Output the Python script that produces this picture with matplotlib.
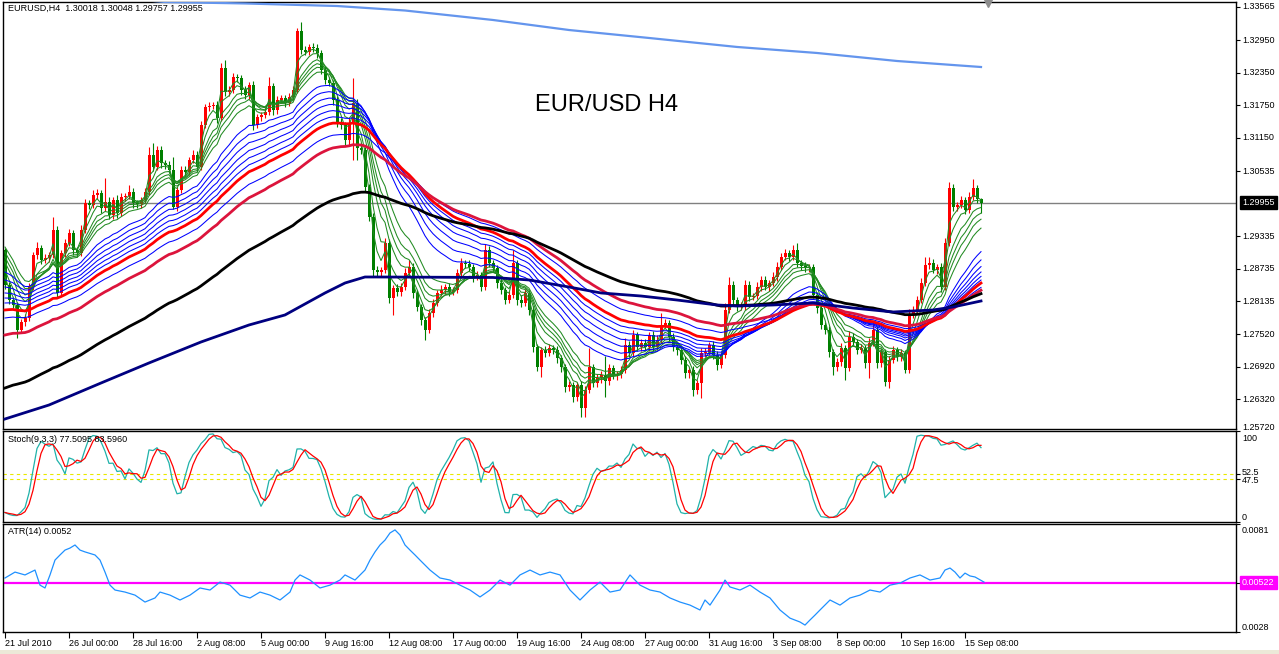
import matplotlib.pyplot as plt
import numpy as np
import pandas as pd

plt.rcParams['font.family'] = ['Liberation Sans', 'DejaVu Sans']

symbol_text = "EURUSD,H4  1.30018 1.30048 1.29757 1.29955"
title_text = "EUR/USD H4"
stoch_text = "Stoch(9,3,3) 77.5095 83.5960"
atr_text = "ATR(14) 0.0052"

# H4 closes (one per bar)
first_open = 1.2908
closes = [
    1.28433, 1.28156, 1.28064, 1.27603, 1.27750, 1.27824, 1.28396, 1.28987, 1.29116, 1.28895,
    1.28932, 1.28987, 1.29449, 1.28286, 1.29024, 1.29208, 1.29393, 1.29079, 1.29024, 1.29449,
    1.29947, 1.29910, 1.30094, 1.30131, 1.29854, 1.29965, 1.29725, 1.30002, 1.29762, 1.30057,
    1.30076, 1.30150, 1.29947, 1.29928, 1.30002, 1.30150, 1.30833, 1.30611, 1.30925, 1.30685,
    1.30648, 1.30556, 1.29873, 1.30187, 1.30556, 1.30520, 1.30741, 1.30833, 1.30611, 1.31387,
    1.31719, 1.31737, 1.31756, 1.31516, 1.32439, 1.31996, 1.32033, 1.32273, 1.32255, 1.32033,
    1.31941, 1.32125, 1.31387, 1.31535, 1.31572, 1.31627, 1.32107, 1.31664, 1.31848, 1.31885,
    1.31793, 1.31904, 1.32033, 1.33122, 1.32771, 1.32734, 1.32827, 1.32808, 1.32716, 1.32402,
    1.32217, 1.32162, 1.31848, 1.31442, 1.31387, 1.31110, 1.31424, 1.31793, 1.30962, 1.30925,
    1.30242, 1.29688, 1.28710, 1.28673, 1.28710, 1.29208, 1.28193, 1.28378, 1.28304, 1.28396,
    1.28655, 1.28766, 1.28286, 1.28027, 1.27787, 1.27603, 1.27916, 1.28101, 1.28286, 1.28341,
    1.28396, 1.28304, 1.28341, 1.28655, 1.28839, 1.28821, 1.28766, 1.28581, 1.28618, 1.28396,
    1.29079, 1.28839, 1.28747, 1.28470, 1.28341, 1.28156, 1.28249, 1.28839, 1.28156, 1.28101,
    1.28286, 1.27972, 1.27289, 1.26920, 1.27233, 1.27178, 1.27270, 1.27233, 1.27086, 1.26920,
    1.26551, 1.26588, 1.26366, 1.26588, 1.26164, 1.26495, 1.26920, 1.26624, 1.26717, 1.26772,
    1.26661, 1.26901, 1.26772, 1.26790, 1.26864, 1.27326, 1.27178, 1.27510, 1.27289, 1.27362,
    1.27289, 1.27510, 1.27289, 1.27418, 1.27695, 1.27732, 1.27473, 1.27289, 1.27233, 1.27049,
    1.26809, 1.26864, 1.26495, 1.26624, 1.27178, 1.27196, 1.27326, 1.27141, 1.26956, 1.27141,
    1.27972, 1.28433, 1.28156, 1.28027, 1.28045, 1.28433, 1.28212, 1.28230, 1.28396, 1.28526,
    1.28396, 1.28470, 1.28581, 1.28766, 1.28950, 1.29024, 1.28950, 1.29079, 1.28839, 1.28784,
    1.28747, 1.28766, 1.28249, 1.28008, 1.27695, 1.27603, 1.27196, 1.26920, 1.27012, 1.27270,
    1.26901, 1.27473, 1.27381, 1.27233, 1.27270, 1.26993, 1.27362, 1.27603, 1.26993, 1.27196,
    1.26643, 1.27049, 1.27233, 1.27104, 1.27178, 1.26864, 1.27879, 1.27972, 1.28156, 1.28470,
    1.28802, 1.28839, 1.28710, 1.28766, 1.28396, 1.29208, 1.30224, 1.29873, 1.29910, 1.30002,
    1.29818, 1.30057, 1.30224, 1.30018, 1.29955,
]

# wick lengths beyond the body, in pips
wick_up = [
    4, 5, 6, 5, 6, 7, 8, 6, 12, 6, 7, 6, 24, 8, 6, 7, 8, 6, 5, 9,
    7, 6, 10, 8, 6, 45, 9, 6, 10, 7, 6, 12, 7, 5, 6, 8, 14, 22, 8, 7,
    6, 7, 24, 6, 8, 7, 6, 9, 7, 8, 6, 7, 5, 7, 10, 15, 7, 8, 6, 5,
    7, 6, 8, 5, 6, 7, 17, 6, 8, 5, 6, 7, 8, 6, 17, 7, 6, 8, 7, 6,
    7, 5, 6, 8, 7, 6, 9, 46, 7, 8, 6, 5, 7, 8, 6, 9, 7, 6, 8, 7,
    9, 12, 7, 6, 5, 6, 8, 7, 6, 9, 6, 7, 5, 8, 9, 6, 7, 6, 8, 6,
    12, 7, 6, 5, 8, 6, 7, 24, 6, 9, 8, 6, 7, 5, 6, 8, 7, 6, 7, 6,
    6, 7, 5, 6, 7, 8, 35, 6, 7, 8, 35, 7, 6, 5, 7, 12, 8, 10, 6, 7,
    8, 6, 7, 9, 22, 8, 6, 7, 5, 6, 7, 6, 8, 6, 9, 7, 6, 8, 7, 6,
    12, 15, 7, 6, 8, 10, 7, 6, 9, 7, 8, 6, 9, 10, 8, 7, 6, 9, 13, 6,
    7, 6, 5, 6, 7, 6, 8, 6, 7, 9, 6, 12, 7, 6, 8, 6, 9, 14, 7, 6,
    6, 8, 7, 6, 7, 6, 12, 8, 7, 9, 15, 12, 7, 6, 8, 10, 11, 7, 6, 8,
    6, 9, 17, 6, 3,
]
wick_dn = [
    8, 7, 6, 14, 6, 7, 5, 6, 7, 8, 6, 7, 5, 8, 6, 7, 5, 9, 8, 6,
    6, 7, 5, 8, 9, 6, 8, 7, 9, 6, 7, 5, 10, 7, 8, 6, 5, 7, 6, 9,
    7, 6, 4, 8, 6, 7, 5, 6, 9, 5, 6, 7, 6, 9, 5, 8, 7, 6, 7, 9,
    8, 7, 10, 6, 7, 5, 6, 9, 7, 6, 8, 5, 6, 5, 7, 6, 5, 8, 9, 7,
    8, 6, 9, 10, 8, 9, 12, 68, 22, 7, 9, 8, 12, 10, 7, 6, 9, 31, 8, 7,
    6, 7, 9, 8, 10, 18, 6, 7, 5, 6, 7, 8, 6, 5, 6, 7, 8, 9, 6, 8,
    6, 8, 7, 9, 7, 8, 6, 5, 9, 8, 6, 10, 9, 8, 18, 7, 6, 8, 9, 10,
    9, 8, 10, 7, 17, 17, 6, 8, 7, 9, 30, 7, 8, 9, 8, 6, 7, 6, 8, 7,
    6, 7, 8, 6, 5, 6, 8, 7, 9, 8, 10, 9, 12, 8, 28, 7, 6, 8, 9, 6,
    5, 6, 8, 7, 6, 7, 8, 6, 5, 7, 6, 8, 6, 7, 5, 6, 7, 6, 8, 7,
    7, 8, 6, 9, 8, 7, 10, 14, 8, 7, 22, 6, 7, 8, 6, 9, 28, 6, 10, 7,
    8, 11, 6, 7, 8, 6, 5, 6, 7, 5, 6, 7, 6, 8, 9, 6, 5, 7, 8, 6,
    8, 6, 5, 7, 20,
]

# moving averages: periods and their value at the first visible bar
green_periods = [3, 5, 8, 10, 12, 15]
green_seeds = [1.28581, 1.28710, 1.28858, 1.28950, 1.29042, 1.29134]
blue_periods = [25, 30, 35, 40, 45, 50, 65]
blue_seeds = [1.28673, 1.28526, 1.28396, 1.28286, 1.28193, 1.28101, 1.27824]
red_period, red_seed = 55, 1.27972
crimson_period, crimson_seed = 75, 1.27510
black_period, black_seed = 118, 1.26532

# higher timeframe averages (bar index, price)
navy_bars = [0, 11, 24, 36, 49, 61, 70, 80, 85, 90, 93, 122, 131, 141, 149, 159,
             168, 178, 183, 192, 202, 212, 222, 232, 237, 244]
navy_vals = [1.25960, 1.26218, 1.26624, 1.26994, 1.27381, 1.27695, 1.27880, 1.28286,
             1.28470, 1.28581, 1.28581, 1.28572, 1.28526, 1.28396, 1.28286, 1.28230,
             1.28156, 1.28064, 1.28045, 1.28064, 1.28101, 1.28008, 1.27935, 1.27972,
             1.28027, 1.28138]
slow_bars = [30, 40, 60, 83, 100, 122, 141, 161, 183, 203, 223, 244]
slow_vals = [1.33720, 1.33657, 1.33630, 1.33583, 1.33500, 1.33325, 1.33140, 1.32993,
             1.32827, 1.32716, 1.32568, 1.32457]

# ATR(14) (bar index, value)
atr_bars = [0, 2.5, 5, 7.5, 8.75, 10, 11.25, 12.5, 13.75, 15, 16.25, 17.5, 18.75, 20,
            22.5, 23.75, 25, 26.25, 27.5, 30, 32.5, 35, 37.5, 38.75, 41.25, 43.75,
            46.25, 48.75, 51.25, 53.75, 56.25, 58.75, 61.25, 63.75, 66.25, 68.75,
            71.25, 72.5, 73.75, 76.25, 78.75, 81.25, 83.75, 85, 87.5, 90, 91.25, 92.5,
            93.75, 95, 96.25, 97.5, 98.75, 100, 101.25, 102.5, 103.75, 106.25, 108.75,
            111.25, 113.75, 116.25, 118.75, 121.25, 123.75, 126.25, 128.75, 131.25,
            133.75, 136.25, 138.75, 141.25, 143.75, 146.25, 148.75, 151.25, 153.75,
            156.25, 158.75, 161.25, 163.75, 166.25, 168.75, 171.25, 173.75, 175,
            176.25, 178.75, 180, 181.25, 183.75, 186.25, 188.75, 191.25, 193.75,
            196.25, 198.75, 200, 201.25, 202.5, 203.75, 206.25, 208.75, 211.25,
            213.75, 216.25, 218.75, 221.25, 223.75, 226.25, 228.75, 231.25, 233.75,
            235, 236.25, 237.5, 238.75, 240, 241.25, 242.5, 244.75]
atr_vals = [0.00545, 0.00574, 0.00560, 0.00584, 0.00510, 0.00496, 0.00560, 0.00633,
            0.00658, 0.00682, 0.00692, 0.00707, 0.00682, 0.00673, 0.00658, 0.00633,
            0.00574, 0.00510, 0.00486, 0.00476, 0.00461, 0.00427, 0.00447, 0.00476,
            0.00461, 0.00437, 0.00461, 0.00496, 0.00486, 0.00525, 0.00510, 0.00461,
            0.00447, 0.00476, 0.00461, 0.00437, 0.00476, 0.00535, 0.00560, 0.00535,
            0.00496, 0.00510, 0.00535, 0.00560, 0.00535, 0.00584, 0.00633, 0.00673,
            0.00707, 0.00731, 0.00766, 0.00781, 0.00756, 0.00707, 0.00682, 0.00658,
            0.00633, 0.00584, 0.00545, 0.00535, 0.00510, 0.00486, 0.00452, 0.00486,
            0.00535, 0.00510, 0.00560, 0.00584, 0.00560, 0.00574, 0.00560, 0.00486,
            0.00437, 0.00486, 0.00525, 0.00476, 0.00486, 0.00560, 0.00510, 0.00486,
            0.00476, 0.00447, 0.00427, 0.00412, 0.00388, 0.00437, 0.00412, 0.00486,
            0.00535, 0.00501, 0.00486, 0.00510, 0.00476, 0.00447, 0.00388, 0.00348,
            0.00329, 0.00314, 0.00339, 0.00363, 0.00388, 0.00437, 0.00412, 0.00447,
            0.00461, 0.00486, 0.00476, 0.00510, 0.00520, 0.00545, 0.00560, 0.00535,
            0.00545, 0.00584, 0.00594, 0.00574, 0.00545, 0.00569, 0.00555, 0.00550,
            0.00525]

time_ticks = [0, 16, 32, 48, 64, 80, 96, 112, 128, 144, 160, 176, 192, 208, 224, 240]
time_labels = ["21 Jul 2010", "26 Jul 00:00", "28 Jul 16:00", "2 Aug 08:00",
               "5 Aug 00:00", "9 Aug 16:00", "12 Aug 08:00", "17 Aug 00:00",
               "19 Aug 16:00", "24 Aug 08:00", "27 Aug 00:00", "31 Aug 16:00",
               "3 Sep 08:00", "8 Sep 00:00", "10 Sep 16:00", "15 Sep 08:00"]
price_ticks = [1.33565, 1.32950, 1.32350, 1.31750, 1.31150, 1.30535, 1.29335,
               1.28735, 1.28135, 1.27520, 1.26920, 1.26320, 1.25720]
bid = 1.29955
atr_level = 0.00522
stoch_levels = [52.5, 47.5]


def ema(values, period, seed):
    k = 2.0 / (period + 1)
    out = [seed]
    for v in values[1:]:
        out.append(out[-1] + k * (v - out[-1]))
    return np.array(out)


c = np.array(closes)
o = np.r_[first_open, c[:-1]]
hi = np.maximum(o, c) + np.array(wick_up) * 1e-4
lo = np.minimum(o, c) - np.array(wick_dn) * 1e-4
idx = np.arange(len(c))

# stochastic 9,3,3 from the candles
hs, ls, cs = pd.Series(hi), pd.Series(lo), pd.Series(c)
hh = hs.rolling(9, min_periods=1).max()
ll = ls.rolling(9, min_periods=1).min()
st_main = (cs - ll).rolling(3, min_periods=1).sum() / (hh - ll).rolling(3, min_periods=1).sum() * 100
st_sig = st_main.rolling(3, min_periods=1).mean()

fig = plt.figure(figsize=(12.79, 6.54), dpi=100)
W, H = 1279, 654
ax = fig.add_axes([3 / W, 1 - 429 / H, 1233 / W, 427 / H])
ax_st = fig.add_axes([3 / W, 1 - 522 / H, 1233 / W, 91 / H])
ax_atr = fig.add_axes([3 / W, 1 - 632 / H, 1233 / W, 108 / H])

xlim = (-0.5, 307.75)
small = 6.5


def right_label(a, value, text, dy=0, **kw):
    a.annotate(text, xy=(1, value), xycoords=('axes fraction', 'data'),
               xytext=(6, dy), textcoords='offset pixels', ha='left',
               fontsize=small, annotation_clip=False, **kw)


for a in (ax, ax_st, ax_atr):
    a.set_xlim(*xlim)
    for s in a.spines.values():
        s.set_linewidth(1.0)
        s.set_color('black')
    a.yaxis.tick_right()
    a.tick_params(axis='y', direction='out', length=3, width=0.8, labelright=False)
    a.tick_params(axis='x', bottom=False, labelbottom=False)

# ---- price pane ----
ax.set_ylim(1.25775, 1.33657)
ax.axhline(bid, color='#808080', lw=1.0, zorder=1)

up = c >= o
colors = np.where(up, '#FF0000', '#007F00')
ax.vlines(idx, lo, hi, colors=colors, lw=0.8, zorder=2)
ax.bar(idx, np.maximum(np.abs(c - o), 0.00007), bottom=np.minimum(o, c), width=0.75,
       color=colors, linewidth=0, zorder=2)

for p, s in zip(green_periods, green_seeds):
    ax.plot(idx, ema(c, p, s), color='#228B22', lw=0.75, zorder=3)
for p, s in zip(blue_periods, blue_seeds):
    ax.plot(idx, ema(c, p, s), color='#0000FF', lw=0.75, zorder=3)
ax.plot(idx, ema(c, red_period, red_seed), color='#FF0000', lw=2.0, zorder=4)
ax.plot(idx, ema(c, crimson_period, crimson_seed), color='#DC143C', lw=2.0, zorder=4)
ax.plot(idx, ema(c, black_period, black_seed), color='black', lw=2.0, zorder=4)
ax.plot(navy_bars, navy_vals, color='#000080', lw=2.0, zorder=4)
ax.plot(slow_bars, slow_vals, color='#6495ED', lw=1.6, zorder=4)

ax.plot(len(c) + 0.75, 1.33657, marker='v', color='#8C8C8C', ms=7, clip_on=False, zorder=5)

ax.set_yticks([t for t in price_ticks if 1.25775 < t < 1.33657])
for t in price_ticks:
    if t < 1.25775:
        right_label(ax, t, f"{t:.5f}", va='bottom')
    else:
        right_label(ax, t, f"{t:.5f}", va='center')
right_label(ax, bid, f"{bid:.5f}", va='center', color='white',
            bbox=dict(facecolor='black', edgecolor='black', pad=1.5))

ax.annotate(symbol_text, xy=(0, 1), xycoords='axes fraction', xytext=(5, -6),
            textcoords='offset pixels', ha='left', va='center', fontsize=small)
ax.text(604 / 1233, 1 - 103 / 427, title_text, transform=ax.transAxes,
        ha='center', va='center', fontsize=17)

# ---- stochastic pane ----
ax_st.set_ylim(0, 100)
for lv in stoch_levels:
    ax_st.axhline(lv, color='#E8E800', lw=0.8, ls=(0, (3, 3)))
ax_st.plot(idx, st_main, color='#20B2AA', lw=0.9)
ax_st.plot(idx, st_sig, color='#FF0000', lw=0.9)
ax_st.set_yticks([100] + stoch_levels + [0])
right_label(ax_st, 100, "100", dy=-3, va='top')
right_label(ax_st, 0, "0", va='bottom')
right_label(ax_st, stoch_levels[0], f"{stoch_levels[0]:g}", dy=2, va='center')
right_label(ax_st, stoch_levels[1], f"{stoch_levels[1]:g}", dy=-2, va='center')
ax_st.annotate(stoch_text, xy=(0, 1), xycoords='axes fraction', xytext=(5, -9),
               textcoords='offset pixels', ha='left', va='center', fontsize=small)

# ---- ATR pane ----
ax_atr.set_ylim(0.0028, 0.0081)
ax_atr.axhline(atr_level, color='#FF00FF', lw=1.6)
ax_atr.plot(atr_bars, atr_vals, color='#1E90FF', lw=0.9)
ax_atr.set_yticks([0.0081, atr_level, 0.0028])
right_label(ax_atr, 0.0081, "0.0081", dy=-2, va='top')
right_label(ax_atr, 0.0028, "0.0028", va='bottom')
right_label(ax_atr, atr_level, f"{atr_level:.5f}", va='center', color='white',
            bbox=dict(facecolor='#FF00FF', edgecolor='#FF00FF', pad=1.5))
ax_atr.annotate(atr_text, xy=(0, 1), xycoords='axes fraction', xytext=(5, -8),
                textcoords='offset pixels', ha='left', va='center', fontsize=small)

ax_atr.set_xticks(time_ticks)
ax_atr.set_xticklabels(time_labels, ha='left')
ax_atr.tick_params(axis='x', bottom=True, labelbottom=True, direction='out',
                   length=4, width=0.8, pad=1, labelsize=small)

# bottom tab strip
fig.patches.append(plt.Rectangle((0, 0), 1, 4 / H, transform=fig.transFigure,
                                 facecolor='#ECE9D8', edgecolor='none'))

fig.savefig('out.png', dpi=100)
